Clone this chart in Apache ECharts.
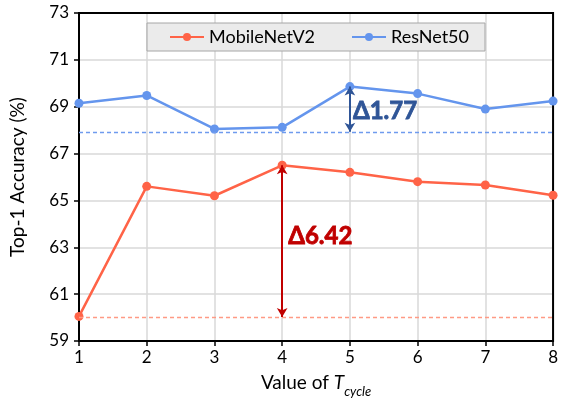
<!DOCTYPE html>
<html>
<head>
<meta charset="utf-8">
<script src="https://cdn.jsdelivr.net/npm/echarts@6/dist/echarts.min.js"></script>
<style>
  html, body { margin: 0; padding: 0; background: #fff; }
  #main { width: 561px; height: 403px; }
</style>
</head>
<body>
<div id="main"></div>
<script>
// T_cycle values on the x axis
var cycles = [1, 2, 3, 4, 5, 6, 7, 8];
var mobileNet = [60.05, 65.6, 65.2, 66.5, 66.2, 65.8, 65.66, 65.22];
var resNet = [69.15, 69.48, 68.05, 68.12, 69.86, 69.56, 68.9, 69.24];
// baselines and gap annotations
var mobileBase = 60.02;
var resBase = 67.93;
var mobileGap = { x: 4, from: 66.5, to: 60.02, text: 'Δ6.42', at: [4, 63.45] };
var resGap = { x: 5, from: 69.86, to: 67.93, text: 'Δ1.77', at: [5, 68.8] };

var FONT = 'Lato';
var red = '#FF6347', blue = '#6495ED';
var darkRed = '#C00000', darkBlue = '#2F5597';

function pairs(ys) {
  return cycles.map(function (c, i) { return [c, ys[i]]; });
}

var myChart = echarts.init(document.getElementById('main'));
myChart.setOption({
  animation: false,
  textStyle: { fontFamily: FONT },
  grid: { left: 78, right: 6, top: 13, bottom: 60, show: true, borderColor: '#000', borderWidth: 2, z: 3 },
  legend: {
    data: ['MobileNetV2', 'ResNet50'],
    top: 23,
    left: 147,
    itemWidth: 34,
    itemHeight: 10,
    itemGap: 36,
    padding: [5, 16, 5, 22],
    backgroundColor: '#EBEBEB',
    borderColor: '#A6A6A6',
    borderWidth: 1,
    borderRadius: 0,
    textStyle: { fontSize: 18, color: '#000', fontFamily: FONT }
  },
  xAxis: {
    type: 'value',
    min: 1,
    max: 8,
    interval: 1,
    name: '{n|Value of }{i|T}{s|cycle}',
    nameLocation: 'middle',
    nameGap: 32,
    nameTextStyle: {
      rich: {
        n: { fontSize: 19, color: '#000', fontFamily: FONT, lineHeight: 24, verticalAlign: 'top' },
        i: { fontSize: 19, color: '#000', fontStyle: 'italic', fontFamily: FONT, lineHeight: 24, verticalAlign: 'top' },
        s: { fontSize: 13, color: '#000', fontStyle: 'italic', fontFamily: FONT, lineHeight: 13, padding: [12, 0, 0, 0], verticalAlign: 'top' }
      }
    },
    axisLine: { lineStyle: { color: '#000', width: 2 } },
    axisTick: { show: true, length: 5, lineStyle: { color: '#000', width: 1.5 } },
    axisLabel: { fontSize: 17, color: '#000', margin: 8 },
    splitLine: { show: true, lineStyle: { color: '#D9D9D9', width: 1.5 } }
  },
  yAxis: {
    type: 'value',
    min: 59,
    max: 73,
    interval: 2,
    name: 'Top-1 Accuracy (%)',
    nameLocation: 'middle',
    nameGap: 52,
    nameTextStyle: { fontSize: 19, color: '#000', fontFamily: FONT },
    axisLine: { show: true, lineStyle: { color: '#000', width: 2 } },
    axisTick: { show: true, length: 5, lineStyle: { color: '#000', width: 1.5 } },
    axisLabel: { fontSize: 17, color: '#000', margin: 10 },
    splitLine: { show: true, lineStyle: { color: '#D9D9D9', width: 1.5 } }
  },
  series: [{
    name: 'MobileNetV2',
    type: 'line',
    data: pairs(mobileNet),
    color: red,
    symbol: 'circle',
    symbolSize: 9,
    lineStyle: { width: 2.5 },
    z: 4,
    markLine: {
      silent: true,
      symbol: 'none',
      label: { show: false },
      lineStyle: { type: [4, 3], color: '#FF9A85', width: 1.3, opacity: 1 },
      data: [{ yAxis: mobileBase, lineStyle: { type: [4, 3], color: '#FF9A85', width: 1.3 } }]
    }
  }, {
    name: 'ResNet50',
    type: 'line',
    data: pairs(resNet),
    color: blue,
    symbol: 'circle',
    symbolSize: 9,
    lineStyle: { width: 2.5 },
    z: 4,
    markLine: {
      silent: true,
      symbol: 'none',
      label: { show: false },
      lineStyle: { type: [4, 3], color: '#6F9BEE', width: 1.3, opacity: 1 },
      data: [{ yAxis: resBase, lineStyle: { type: [4, 3], color: '#6F9BEE', width: 1.3 } }]
    }
  }, {
    // arrows and their labels
    name: 'gaps',
    type: 'scatter',
    symbolSize: 0,
    silent: true,
    itemStyle: { opacity: 1 },
    z: 5,
    data: [{
      value: mobileGap.at,
      label: { show: true, position: 'right', distance: 6, formatter: mobileGap.text, color: darkRed, opacity: 1, fontSize: 24, fontWeight: 'bold', fontFamily: FONT, textBorderColor: darkRed, textBorderWidth: 0.8 }
    }, {
      value: resGap.at,
      label: { show: true, position: 'right', distance: 3, formatter: resGap.text, color: darkBlue, opacity: 1, fontSize: 24, fontWeight: 'bold', fontFamily: FONT, textBorderColor: darkBlue, textBorderWidth: 0.8 }
    }],
    markLine: {
      silent: true,
      symbol: ['arrow', 'arrow'],
      symbolSize: [8, 9],
      label: { show: false },
      data: [
        [{ coord: [mobileGap.x, mobileGap.from], lineStyle: { color: darkRed, width: 2, type: 'solid', opacity: 1 } },
         { coord: [mobileGap.x, mobileGap.to] }],
        [{ coord: [resGap.x, resGap.from], lineStyle: { color: darkBlue, width: 2, type: 'solid', opacity: 1 } },
         { coord: [resGap.x, resGap.to] }]
      ]
    }
  }]
});
</script>
</body>
</html>
